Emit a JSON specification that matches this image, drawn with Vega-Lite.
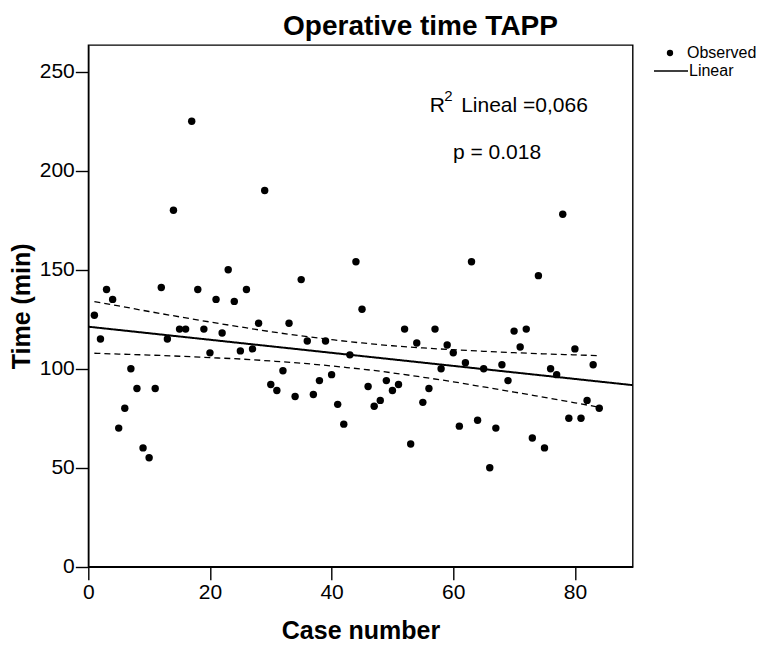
{
  "$schema": "https://vega.github.io/schema/vega-lite/v6.json",
  "width": 544.4,
  "height": 521.7,
  "autosize": {"type": "none"},
  "padding": {"left": 88.3, "top": 45, "right": 136.3, "bottom": 78.3},
  "background": "white",
  "config": {
    "font": "Liberation Sans",
    "view": {"stroke": "black", "strokeWidth": 1.4},
    "axis": {"grid": false, "domainColor": "black", "domainWidth": 1.4, "tickColor": "black", "tickWidth": 1.4, "tickSize": 13, "labelColor": "black", "labelFont": "Liberation Sans", "labelFontSize": 21, "titleColor": "black", "titleFont": "Liberation Sans", "titleFontSize": 25, "titleFontWeight": "bold"},
    "legend": {"labelFont": "Liberation Sans", "labelFontSize": 16, "labelColor": "black", "padding": 0}
  },
  "title": {"text": "Operative time TAPP", "font": "Liberation Sans", "fontSize": 28, "fontWeight": "bold", "color": "black", "anchor": "middle", "frame": "group", "dx": 60, "offset": 4},
  "datasets": {
    "obs": [
      {"case": 1, "time": 127}, {"case": 2, "time": 115}, {"case": 3, "time": 140}, {"case": 4, "time": 135}, {"case": 5, "time": 70},
      {"case": 6, "time": 80}, {"case": 7, "time": 100}, {"case": 8, "time": 90}, {"case": 9, "time": 60}, {"case": 10, "time": 55},
      {"case": 11, "time": 90}, {"case": 12, "time": 141}, {"case": 13, "time": 115}, {"case": 14, "time": 180}, {"case": 15, "time": 120},
      {"case": 16, "time": 120}, {"case": 17, "time": 225}, {"case": 18, "time": 140}, {"case": 19, "time": 120}, {"case": 20, "time": 108},
      {"case": 21, "time": 135}, {"case": 22, "time": 118}, {"case": 23, "time": 150}, {"case": 24, "time": 134}, {"case": 25, "time": 109},
      {"case": 26, "time": 140}, {"case": 27, "time": 110}, {"case": 28, "time": 123}, {"case": 29, "time": 190}, {"case": 30, "time": 92},
      {"case": 31, "time": 89}, {"case": 32, "time": 99}, {"case": 33, "time": 123}, {"case": 34, "time": 86}, {"case": 35, "time": 145},
      {"case": 36, "time": 114}, {"case": 37, "time": 87}, {"case": 38, "time": 94}, {"case": 39, "time": 114}, {"case": 40, "time": 97},
      {"case": 41, "time": 82}, {"case": 42, "time": 72}, {"case": 43, "time": 107}, {"case": 44, "time": 154}, {"case": 45, "time": 130},
      {"case": 46, "time": 91}, {"case": 47, "time": 81}, {"case": 48, "time": 84}, {"case": 49, "time": 94}, {"case": 50, "time": 89},
      {"case": 51, "time": 92}, {"case": 52, "time": 120}, {"case": 53, "time": 62}, {"case": 54, "time": 113}, {"case": 55, "time": 83},
      {"case": 56, "time": 90}, {"case": 57, "time": 120}, {"case": 58, "time": 100}, {"case": 59, "time": 112}, {"case": 60, "time": 108},
      {"case": 61, "time": 71}, {"case": 62, "time": 103}, {"case": 63, "time": 154}, {"case": 64, "time": 74}, {"case": 65, "time": 100},
      {"case": 66, "time": 50}, {"case": 67, "time": 70}, {"case": 68, "time": 102}, {"case": 69, "time": 94}, {"case": 70, "time": 119},
      {"case": 71, "time": 111}, {"case": 72, "time": 120}, {"case": 73, "time": 65}, {"case": 74, "time": 147}, {"case": 75, "time": 60},
      {"case": 76, "time": 100}, {"case": 77, "time": 97}, {"case": 78, "time": 178}, {"case": 79, "time": 75}, {"case": 80, "time": 110},
      {"case": 81, "time": 75}, {"case": 82, "time": 84}, {"case": 83, "time": 102}, {"case": 84, "time": 80}
    ],
    "ci": [
      {"case": 1, "time": 133.9, "bound": "upper"}, {"case": 5, "time": 131.7, "bound": "upper"}, {"case": 10, "time": 128.9, "bound": "upper"},
      {"case": 15, "time": 126.2, "bound": "upper"}, {"case": 20, "time": 123.6, "bound": "upper"}, {"case": 25, "time": 121.1, "bound": "upper"},
      {"case": 30, "time": 118.7, "bound": "upper"}, {"case": 35, "time": 116.6, "bound": "upper"}, {"case": 40, "time": 114.7, "bound": "upper"},
      {"case": 42.5, "time": 113.8, "bound": "upper"}, {"case": 45, "time": 113.0, "bound": "upper"}, {"case": 50, "time": 111.6, "bound": "upper"},
      {"case": 55, "time": 110.5, "bound": "upper"}, {"case": 60, "time": 109.6, "bound": "upper"}, {"case": 65, "time": 108.8, "bound": "upper"},
      {"case": 70, "time": 108.1, "bound": "upper"}, {"case": 75, "time": 107.5, "bound": "upper"}, {"case": 80, "time": 107.0, "bound": "upper"},
      {"case": 84, "time": 106.6, "bound": "upper"},
      {"case": 1, "time": 107.8, "bound": "lower"}, {"case": 5, "time": 107.4, "bound": "lower"}, {"case": 10, "time": 106.9, "bound": "lower"},
      {"case": 15, "time": 106.3, "bound": "lower"}, {"case": 20, "time": 105.6, "bound": "lower"}, {"case": 25, "time": 104.9, "bound": "lower"},
      {"case": 30, "time": 103.9, "bound": "lower"}, {"case": 35, "time": 102.8, "bound": "lower"}, {"case": 40, "time": 101.4, "bound": "lower"},
      {"case": 42.5, "time": 100.6, "bound": "lower"}, {"case": 45, "time": 99.8, "bound": "lower"}, {"case": 50, "time": 97.9, "bound": "lower"},
      {"case": 55, "time": 95.7, "bound": "lower"}, {"case": 60, "time": 93.4, "bound": "lower"}, {"case": 65, "time": 90.8, "bound": "lower"},
      {"case": 70, "time": 88.2, "bound": "lower"}, {"case": 75, "time": 85.5, "bound": "lower"}, {"case": 80, "time": 82.8, "bound": "lower"},
      {"case": 84, "time": 80.5, "bound": "lower"}
    ]
  },
  "layer": [
    {
      "data": {"name": "ci"},
      "mark": {"type": "line", "color": "black", "strokeWidth": 1.3, "strokeDash": [6, 4], "interpolate": "monotone"},
      "encoding": {
        "x": {"field": "case", "type": "quantitative", "scale": {"domain": [0, 89.5], "nice": false, "zero": false}},
        "y": {"field": "time", "type": "quantitative", "scale": {"domain": [0, 263.5], "nice": false}},
        "detail": {"field": "bound"}
      }
    },
    {
      "data": {"name": "obs"},
      "transform": [{"regression": "time", "on": "case", "extent": [0, 89.5]}],
      "mark": {"type": "line", "color": "black", "strokeWidth": 2, "clip": true},
      "encoding": {
        "x": {"field": "case", "type": "quantitative"},
        "y": {"field": "time", "type": "quantitative"},
        "strokeDash": {"datum": "Linear", "type": "nominal", "scale": {"domain": ["Linear"], "range": [[1, 0]]},
                       "legend": {"title": null, "orient": "none", "legendX": 564.7, "legendY": 8, "symbolType": "stroke", "symbolSize": 1156,
                                  "symbolStrokeWidth": 1.6, "symbolStrokeColor": "black", "labelOffset": 0}}
      }
    },
    {
      "data": {"name": "obs"},
      "mark": {"type": "point", "filled": true, "color": "black", "opacity": 1, "size": 55},
      "encoding": {
        "x": {"field": "case", "type": "quantitative", "title": "Case number",
              "axis": {"values": [0, 20, 40, 60, 80], "labelPadding": 2, "titlePadding": 16, "labelFlush": false}},
        "y": {"field": "time", "type": "quantitative", "title": "Time (min)",
              "axis": {"values": [0, 50, 100, 150, 200, 250], "labelPadding": 1, "titlePadding": 5}},
        "shape": {"datum": "Observed", "type": "nominal", "scale": {"domain": ["Observed"], "range": ["circle"]},
                  "legend": {"title": null, "orient": "none", "legendX": 573.7, "legendY": 0, "symbolSize": 40, "labelOffset": 9,
                             "symbolFillColor": "black", "symbolStrokeColor": "black", "symbolStrokeWidth": 1}}
      }
    },
    {
      "data": {"values": [{}]},
      "mark": {"type": "text", "text": "R", "fontSize": 21, "align": "left", "baseline": "alphabetic", "color": "black"},
      "encoding": {"x": {"datum": 56.15}, "y": {"datum": 229.6}}
    },
    {
      "data": {"values": [{}]},
      "mark": {"type": "text", "text": "2", "fontSize": 15, "align": "left", "baseline": "alphabetic", "color": "black"},
      "encoding": {"x": {"datum": 58.5}, "y": {"datum": 235.2}}
    },
    {
      "data": {"values": [{}]},
      "mark": {"type": "text", "text": "Lineal =0,066", "fontSize": 21, "align": "left", "baseline": "alphabetic", "color": "black"},
      "encoding": {"x": {"datum": 61.3}, "y": {"datum": 229.6}}
    },
    {
      "data": {"values": [{}]},
      "mark": {"type": "text", "text": "p = 0.018", "fontSize": 21, "align": "left", "baseline": "alphabetic", "color": "black"},
      "encoding": {"x": {"datum": 59.94}, "y": {"datum": 205.9}}
    }
  ]
}
